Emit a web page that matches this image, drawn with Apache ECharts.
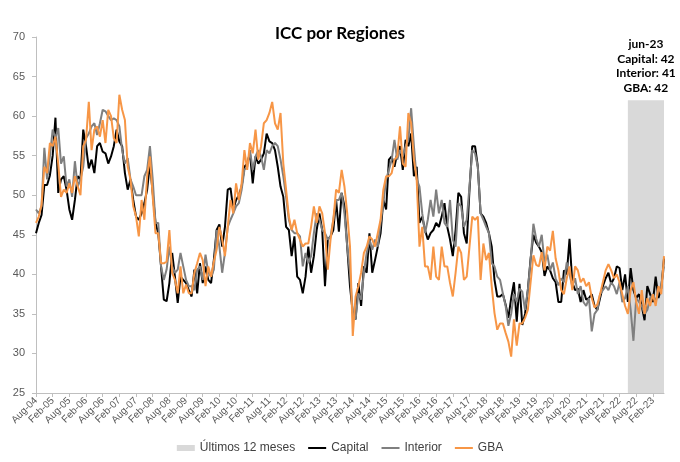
<!DOCTYPE html>
<html>
<head>
<meta charset="utf-8">
<script src="https://cdn.jsdelivr.net/npm/echarts@6/dist/echarts.min.js"></script>
<style>
html,body{margin:0;padding:0;background:#fff;}
#c{width:680px;height:462px;}
</style>
</head>
<body>
<div id="c"></div>
<script>
// Monthly series, Aug-04 .. Jun-23
const capital = [
45.2,46.5,47.5,51.3,51.3,52.5,55,59.8,50.3,52,52.4,50.7,
48.2,46.9,49.4,52.4,52,58.3,56.2,53.4,54.5,52.8,56.2,56.6,
55.5,55.3,54,54.9,56.2,58.3,56.8,56.2,52.8,50.7,52,49.4,
47.3,46.9,47.7,49,50.7,54,50.3,46.5,45.2,41,36.8,36.6,
38.9,42.7,39.7,36.4,39.7,39.3,38.9,38,37.2,40.6,37.6,41.4,
38.9,41,39.3,38.9,41.8,45.6,46.3,43.5,46,50.7,50.9,48.2,
49.4,50,51.1,53.6,54,55.3,51.5,54.9,54,54.5,55.3,57.8,
56.8,56.6,55.7,53.6,51.1,49.8,46,45.6,42.3,44.8,39.7,39.3,
37.6,39.7,43.5,40.2,42.3,45.6,47.7,45.6,38.5,44.4,44.8,45.6,
49.4,45.4,50.3,48.6,43.5,38.5,35.1,34.3,38.9,36,41,40.2,
45.2,40.2,41.8,43.5,45.2,49.4,48.2,54.5,54.9,53.6,55.3,56.2,
53.2,57,56.2,57.8,52.4,53.6,46.5,47.3,45.6,44.4,45.2,45.6,
46.5,46,47.3,49,46,44.4,42.3,45.6,50.3,49.8,45.2,43.9,
50.7,56.2,56.2,53.6,47.7,47.3,46.5,45.2,43.5,39.3,37.2,37.2,
37.5,36.2,34.5,37,39,34,38.8,33.6,35,38,42,45,
44,43.5,42.8,39.8,41,40.5,39.5,39,36.5,36.5,40.5,40,
44.5,39,38,38.2,36.5,38,36.8,37,37.5,36,35.5,37,
38.5,39.5,40.2,38.8,39.5,41,40.8,38,40,36.5,40.8,38,
37,37.5,36,34.2,38.5,37.5,36.5,39.7,37,38.2,42
];
const interior = [
48.2,47.7,48.6,56,52,54.9,58.3,57.2,58.5,54,54.9,51.1,
52,49.8,54.3,51.1,52,53.6,57.2,57.8,58.7,59.1,57.6,59.1,
60.8,60.6,60,59.5,59.7,59.5,58.7,55.7,54,54.7,52,51.1,
50,50,50,52.4,53.2,56.2,52,46.5,46.5,41,39.3,40.6,
43.5,41,40.2,40.6,42.7,41,39.3,38.5,38.5,38,40.6,41,
39.3,42.5,40.2,39.7,40.6,45.6,43.5,40.2,42.7,46,46.9,47.7,
48.6,49,50.7,53.2,53.6,55.7,53.2,54.9,55.7,54.9,53.2,55.7,
55.3,56.2,56.6,56.2,54.5,52.4,49.8,46.9,45.6,45.2,45.2,44.8,
41,42.7,41.4,42.3,45.2,47.7,46.9,45.6,45.2,44.4,44.8,46.9,
49.4,49.4,50.3,47.7,43.5,40.2,35.1,34.3,37.6,36.8,40.2,42.7,
44.4,43.1,44.4,43.5,46.5,49,52,53.2,54.5,57,54.5,55.7,
54.9,56.2,57,61,56.2,52,51.1,47.7,45.2,46.9,49.4,47.3,
50.7,47.7,49.4,46.5,46,49.4,44.4,43.5,49,48.6,46,46.9,
51.1,55.7,55.3,53.6,47.7,46.9,46,45.2,41.4,41,39.7,39.3,
37.6,36,33.5,35,37.5,36.5,38.2,37.8,35.5,38,41.8,46.4,
44.5,43.5,45,41.5,42.5,40.5,41.5,39.5,38.6,39.5,39,41.5,
40,38.5,39.5,37.5,38.5,36.5,36,37,32.8,35,35.5,37.5,
38,38.5,38,39,38.5,37.5,39,36.5,37,38.5,35.5,31.6,
37,36.5,36,35,35.5,37,37.5,36.5,38,38.5,41
];
const gba = [
46.5,47.3,48.8,53.6,52.8,56.6,56.2,57.4,54,49.8,50.7,50.3,
51.5,50.3,52.4,51.1,50,56.2,57,61.8,55.7,58.3,58.7,57.4,
59.5,56.6,60.8,60,57.2,56.6,62.7,60.8,59.5,53.6,52,48.6,
47.3,44.8,49.4,46.9,52.4,54.9,49.8,45.2,45.2,41.4,41.4,41.6,
45.6,40.2,39.3,37.6,41,37.6,38.7,37.6,37.6,40.2,41.4,42.7,
41.8,38.5,41,39.7,41.6,43.1,46,44.4,42.3,46,49.4,47.7,
51.5,49.4,51.5,55.7,53.2,56.6,55.3,58.3,54.5,56.2,59.1,59.5,
60.4,61.8,59.1,58.3,60.4,54,50.7,47.3,45.6,46.9,45.2,44.4,
43.5,43.9,43.9,46,48.6,46.5,48.6,47.7,45.2,40.6,44.4,46.9,
50.7,50.3,53.2,51.1,47.7,43.5,32.2,37.2,38.5,40.2,42.7,43.5,
44.8,44.4,43.5,45.2,46.9,50.7,52.4,52.4,52.8,54.5,54.9,58.7,
54,53.6,60.4,59.1,54.5,52,43.5,46,41,41,39.3,43.5,
39.7,39.3,43.5,41,41,38.9,37.2,40.2,43.5,42.7,39.3,39.7,
43.5,47.3,46.9,47.3,39.3,43.9,41.8,42.7,38.5,35.1,33,33.8,
33.8,32.6,31.5,29.6,34.3,31,33.8,33.8,34.5,35.5,39,42.4,
41.2,41,42.8,40.5,43.5,43,45.5,42,40.5,38,37.5,39.5,
41,38,41,40.5,39,39.5,38.5,39,37,35.8,36.2,37.5,
39,40.5,41.3,40.5,39.5,40,39,37.5,36,35,38,39,
36.5,35,38,35,37,36,37.5,36,38.5,37.5,42.3
];
const monthNames = ['Jan','Feb','Mar','Apr','May','Jun','Jul','Aug','Sep','Oct','Nov','Dec'];
const startYear = 2004, startMonth = 7, nMonths = 227;
const categories = [];
for (let k = 0; k < nMonths; k++) {
  const m = (startMonth + k) % 12;
  const y = startYear + Math.floor((startMonth + k) / 12);
  categories.push(monthNames[m] + '-' + String(y % 100).padStart(2, '0'));
}
const bandStartIndex = 213;   // shaded "últimos 12 meses" band
const bandTop = 62;
const yMin = 25, yMax = 70, yStep = 5;
const lastLabel = 'jun-23';

const chart = echarts.init(document.getElementById('c'));
const last = nMonths - 1;
const annot = lastLabel + '\nCapital: ' + Math.round(capital[last]) +
  '\nInterior: ' + Math.round(interior[last]) + '\nGBA: ' + Math.round(gba[last]);
const lineIcon = 'path://M0,0h0.01v6h-0.01z M0,2h18v2h-18z';

chart.setOption({
  animation: false,
  backgroundColor: '#ffffff',
  title: {
    text: 'ICC por Regiones',
    left: 'center',
    top: 20,
    textStyle: {fontFamily: 'Lato', fontWeight: 'bold', fontSize: 17, color: '#000'}
  },
  grid: {left: 36, right: 16, top: 37, bottom: 69},
  legend: {
    bottom: 3,
    left: 'center',
    itemWidth: 18,
    itemHeight: 6,
    itemGap: 13,
    textStyle: {fontFamily: 'Liberation Sans', fontSize: 12, color: '#404040'},
    data: [
      {name: 'Últimos 12 meses', icon: 'rect'},
      {name: 'Capital', icon: lineIcon},
      {name: 'Interior', icon: lineIcon},
      {name: 'GBA', icon: lineIcon}
    ]
  },
  xAxis: {
    type: 'category',
    data: categories,
    boundaryGap: false,
    axisLine: {lineStyle: {color: '#bfbfbf', width: 1}},
    axisTick: {show: true, interval: function (i) { return i % 6 === 0; }, length: 4, lineStyle: {color: '#bfbfbf'}},
    axisLabel: {
      interval: function (i) { return i % 6 === 0; },
      rotate: 45,
      margin: 6,
      fontFamily: 'Liberation Sans',
      fontSize: 10,
      color: '#595959'
    },
    splitLine: {show: false}
  },
  yAxis: {
    type: 'value',
    min: yMin, max: yMax, interval: yStep,
    axisLine: {show: true, lineStyle: {color: '#bfbfbf'}},
    axisTick: {show: true, length: 4, lineStyle: {color: '#bfbfbf'}},
    axisLabel: {fontFamily: 'Liberation Sans', fontSize: 11, color: '#595959', margin: 11},
    splitLine: {show: false}
  },
  graphic: [{
    type: 'text',
    left: 616,
    top: 37,
    style: {
      text: annot,
      textAlign: 'center',
      x: 28,
      fontFamily: 'Lato',
      fontWeight: 'bold',
      fontSize: 12,
      lineHeight: 14.5,
      fill: '#000'
    }
  }],
  series: [
    {
      name: 'Últimos 12 meses',
      type: 'line',
      data: [],
      symbol: 'none',
      z: 1,
      itemStyle: {color: '#d9d9d9'},
      lineStyle: {color: '#d9d9d9'},
      markArea: {
        silent: true,
        itemStyle: {color: '#d9d9d9', opacity: 1},
        data: [[{xAxis: bandStartIndex, yAxis: yMin}, {xAxis: last, yAxis: bandTop}]]
      }
    },
    {name: 'Capital', type: 'line', data: capital, symbol: 'none', z: 3,
      lineStyle: {color: '#000000', width: 2}, itemStyle: {color: '#000000'}},
    {name: 'Interior', type: 'line', data: interior, symbol: 'none', z: 4,
      lineStyle: {color: '#7f7f7f', width: 2}, itemStyle: {color: '#7f7f7f'}},
    {name: 'GBA', type: 'line', data: gba, symbol: 'none', z: 5,
      lineStyle: {color: '#f79646', width: 2}, itemStyle: {color: '#f79646'}}
  ]
});
</script>
</body>
</html>
